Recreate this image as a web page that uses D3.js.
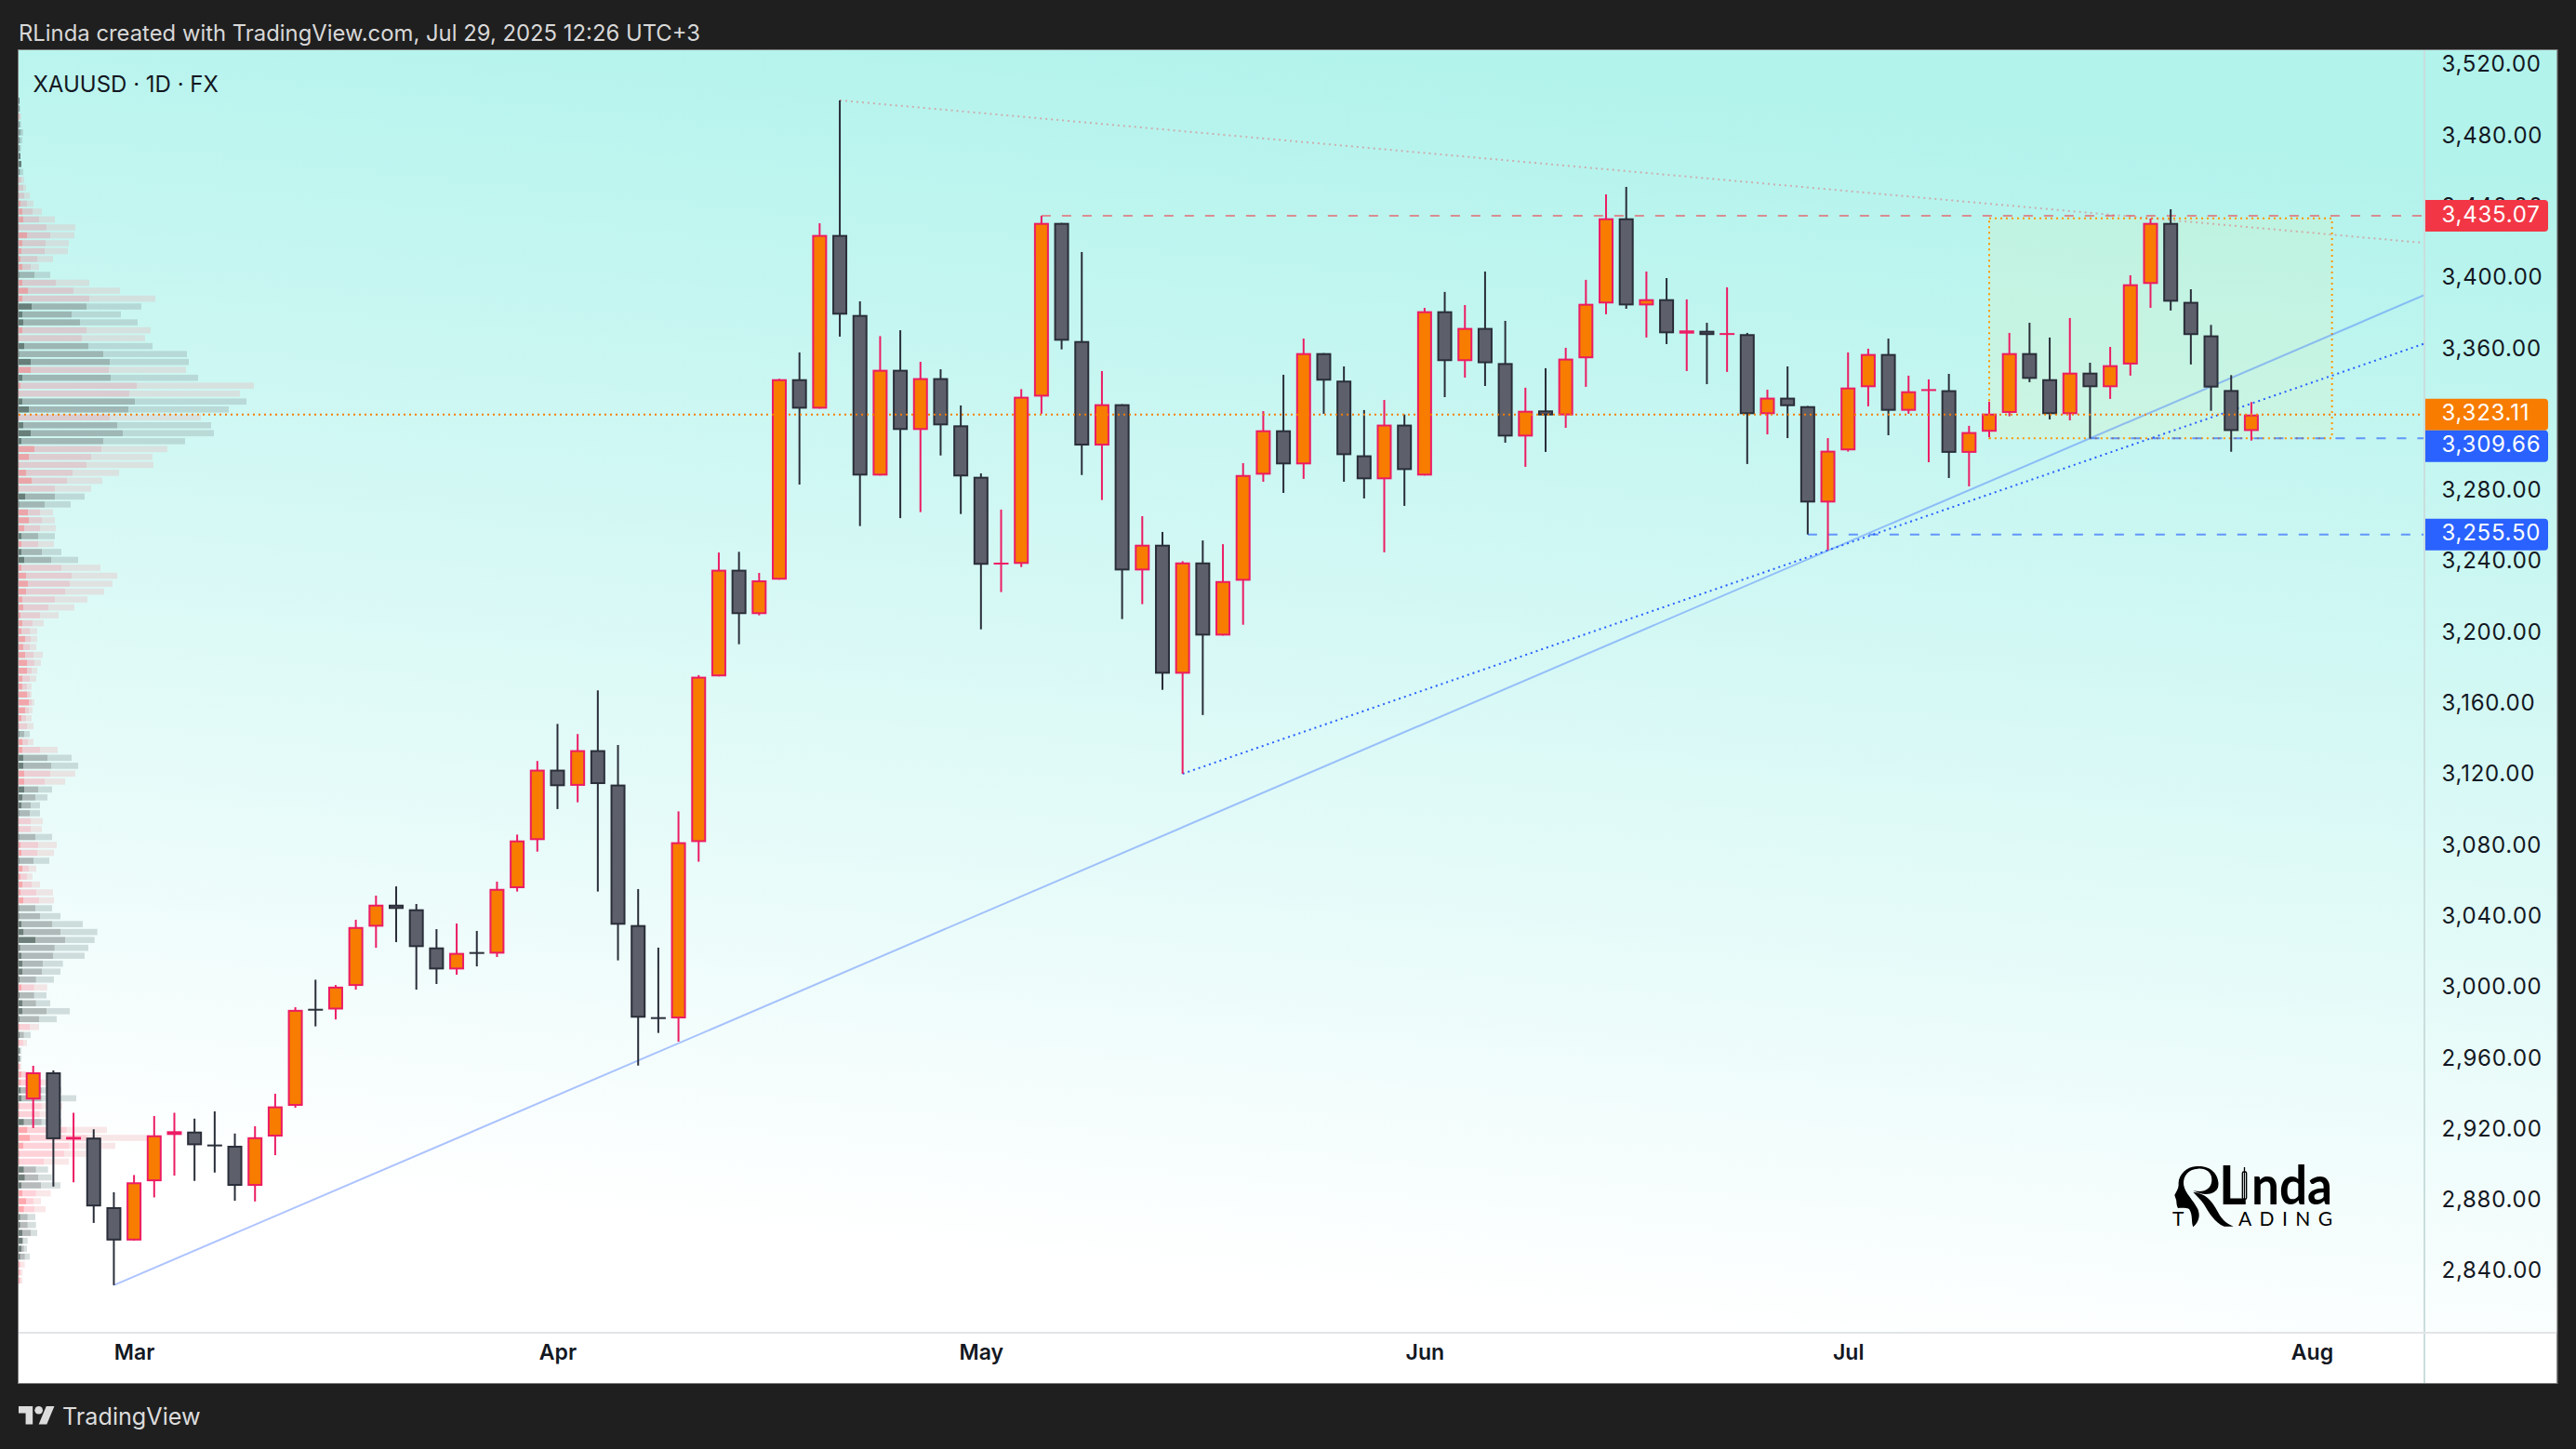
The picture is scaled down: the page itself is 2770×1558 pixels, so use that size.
<!DOCTYPE html>
<html><head><meta charset="utf-8">
<script src="https://cdn.jsdelivr.net/npm/d3@7"></script>
<style>html,body{margin:0;padding:0;background:#1f1f1f}svg{display:block}text{font-family:Inter,"Noto Sans",sans-serif}</style>
</head><body><svg id="c" width="2770" height="1558"></svg>
<script>
const opens=[2937.0,2952.3,2914.4,2915.5,2876.3,2857.5,2890.9,2917.0,2918.9,2911.6,2910.9,2888.3,2916.1,2933.4,2988.1,2987.7,3001.0,3034.4,3046.8,3044.2,3022.7,3010.3,3020.1,3019.2,3056.1,3083.2,3122.9,3113.8,3133.9,3114.5,3035.3,2983.4,2982.7,3082.1,3175.5,3235.6,3210.6,3230.0,3343.0,3326.4,3424.3,3379.2,3288.7,3348.3,3314.4,3343.6,3317.0,3288.0,3238.9,3238.9,3333.2,3431.1,3364.5,3305.6,3328.9,3235.2,3249.7,3177.0,3239.7,3198.5,3229.4,3289.2,3314.2,3295.0,3357.7,3342.2,3300.1,3286.6,3317.4,3288.7,3381.3,3353.2,3371.9,3352.1,3310.7,3325.4,3322.6,3354.8,3385.7,3433.7,3384.6,3388.1,3368.7,3370.3,3368.4,3368.4,3323.3,3332.6,3327.8,3273.5,3302.9,3338.5,3357.2,3325.2,3336.9,3336.8,3301.5,3313.4,3324.0,3357.7,3343.0,3323.3,3346.7,3338.5,3351.3,3396.7,3431.1,3386.6,3367.7,3336.9,3313.8];
const highs=[2956.0,2953.4,2929.5,2920.2,2884.7,2894.4,2927.7,2929.5,2926.2,2930.3,2917.8,2921.9,2940.2,2989.0,3004.5,3001.5,3038.3,3051.9,3057.1,3047.2,3033.0,3036.2,3032.0,3059.8,3086.3,3127.8,3148.7,3143.0,3167.6,3136.8,3055.6,3022.6,3099.4,3176.2,3245.3,3245.7,3233.8,3343.2,3358.1,3430.9,3500.2,3386.9,3367.3,3370.6,3352.8,3348.6,3328.2,3289.9,3269.5,3337.4,3435.07,3431.1,3414.7,3347.6,3328.9,3265.8,3256.9,3240.4,3252.1,3250.0,3295.7,3325.0,3345.5,3365.9,3357.7,3350.2,3325.6,3331.3,3323.1,3383.2,3392.2,3384.8,3403.7,3375.9,3338.2,3349.2,3360.7,3399.0,3447.2,3451.4,3403.7,3400.0,3388.0,3374.8,3394.8,3369.1,3337.1,3350.2,3327.9,3309.8,3358.1,3360.2,3365.9,3345.0,3342.9,3346.0,3316.7,3330.3,3369.1,3374.8,3366.5,3377.5,3352.3,3361.2,3401.6,3433.6,3438.8,3393.7,3373.6,3345.3,3330.1];
const lows=[2920.9,2887.9,2890.3,2867.4,2832.3,2857.5,2881.8,2894.1,2891.1,2895.8,2879.9,2879.5,2905.6,2932.3,2978.2,2982.1,2998.9,3022.5,3025.7,2998.9,3002.1,3007.3,3012.0,3017.3,3054.2,3076.7,3100.7,3104.5,3054.2,3015.4,2956.1,2974.5,2969.6,3071.0,3175.5,3193.6,3209.9,3230.0,3283.6,3326.4,3367.0,3260.2,3288.7,3264.7,3268.1,3300.0,3267.0,3202.0,3223.0,3237.1,3323.5,3359.8,3289.0,3274.9,3207.8,3216.2,3167.9,3120.6,3153.7,3198.5,3204.6,3285.2,3278.9,3286.8,3323.5,3285.2,3275.8,3245.4,3271.6,3288.7,3332.9,3343.9,3339.2,3307.2,3293.6,3302.0,3315.6,3338.7,3379.6,3382.7,3366.5,3362.8,3347.6,3340.2,3347.1,3295.2,3311.9,3309.8,3255.5,3246.6,3302.2,3327.7,3311.4,3323.5,3296.2,3287.3,3282.6,3310.2,3322.1,3341.3,3320.3,3319.8,3309.66,3331.9,3345.0,3383.2,3381.7,3351.3,3325.2,3302.1,3308.4];
const closes=[2952.3,2914.6,2915.9,2876.7,2857.5,2890.3,2916.8,2919.1,2911.2,2911.2,2888.3,2915.7,2933.1,2987.5,2987.7,3000.6,3034.2,3046.8,3044.4,3022.9,3010.3,3019.6,3019.7,3055.7,3083.0,3122.9,3113.6,3133.9,3114.8,3035.5,2983.1,2983.1,3082.0,3175.3,3235.6,3210.6,3229.6,3343.0,3326.4,3424.3,3379.4,3288.7,3348.3,3314.4,3343.6,3317.0,3288.2,3238.4,3239.6,3333.1,3431.1,3364.7,3305.6,3328.9,3235.2,3249.7,3177.0,3239.7,3198.5,3229.2,3289.0,3314.2,3295.0,3357.7,3342.2,3300.2,3286.6,3317.4,3291.8,3381.3,3353.2,3371.9,3352.0,3310.7,3325.2,3322.6,3354.6,3385.5,3433.7,3384.6,3388.1,3368.9,3370.5,3367.9,3369.0,3323.3,3332.6,3327.8,3273.5,3302.7,3338.3,3357.2,3325.2,3336.2,3337.4,3301.5,3313.2,3323.6,3357.7,3343.2,3323.3,3346.7,3338.5,3350.9,3396.5,3431.1,3386.7,3367.9,3338.3,3313.8,3323.11];

const priceTicks=d3.range(2840,3521,40).filter(p=>p!==3320);
const monthTicks=[5,26,47,69,90,113];
const monthNames=["Mar","Apr","May","Jun","Jul","Aug"];

// volume profile, top row first: p = rose rows, g = grey rows
const vpSide=("ggpggggggg|pppppppppppp|g|ppp|ggg|pp|ggg|p|g|pp|gg|p|ggg|pppppp|gg|ppp|g|p|gg|"+
"ppppppp|ppppppp|ppppppp|g|pp|gg|pp|gggg|pp|g|pp|g|ppppp|gggggggggg|p|gggg|p|g|p|gg|ppp|gg|pp|g|ppppp|ggg|ppp|gggggg|ppp").replace(/\|/g,"").split("");
const vpInner=[3,2,2,2,2,2,2,6,9,2,2,2,2,6,12,15,2,27,12,9,6,12,2,12,30,12,42,12,15,12,2,18,2,39,39,12,6,2,12,33,2,15,39,9,51,33,2,24,42,2,21,2,30,33,18,9,9,9,18,9,24,30,24,12,15,6,12,9,21,15,21,27,27,12,12,27,33,21,9,2,2,12,12,15,15,18,18,18,12,9,2,2,2,2,6,9,2,12,6,12,6,15,2,2,9,16,54,5,9,12,12,3,9,3,12,12,3,3,3,3,3,3,3,9,7,7,9,3,3,17,28,36,15,3,3,17,20,9,12,24,17,5,5,12,12,9,5,3,3,3];
const vpMid=[3,2,4,4,8,5,4,6,9,5,9,15,18,27,45,66,90,102,87,84,60,39,51,120,177,228,219,171,198,219,204,225,273,294,291,297,381,357,375,354,294,318,336,273,267,234,219,174,156,117,117,84,69,75,69,63,63,75,105,138,171,165,150,117,96,69,45,36,39,36,48,51,42,36,27,36,42,33,24,27,18,30,69,93,105,102,84,63,54,39,36,39,39,54,63,60,48,33,27,42,57,66,54,69,108,135,150,116,111,78,75,56,50,50,56,90,66,36,17,15,5,5,5,24,74,74,74,74,68,74,155,221,163,147,82,56,63,72,56,48,51,29,29,39,15,17,20,7,7,7];
const vpTotal=[3,5,8,8,15,12,8,6,9,15,18,24,36,48,75,117,183,180,162,159,111,66,102,228,327,441,396,330,384,426,408,432,543,549,540,579,759,714,735,678,588,621,630,537,480,432,435,324,270,234,213,168,111,117,120,117,114,138,192,264,318,303,276,222,180,129,81,60,60,57,78,72,60,57,42,42,51,45,42,48,36,48,126,171,192,183,150,108,93,69,69,78,75,108,123,114,99,57,45,69,111,114,108,135,207,254,245,225,213,143,135,114,92,90,102,165,123,66,39,27,9,9,9,40,94,138,186,141,130,138,285,422,312,218,162,95,107,135,104,72,87,54,56,60,29,27,36,20,13,12];

const levels=[{price:3435.07,start:50,color:"#f23645",line:"rgba(242,54,69,.55)"},{price:3309.66,start:102,color:"#2962ff",line:"rgba(41,98,255,.65)"},{price:3255.50,start:88,color:"#2962ff",line:"rgba(41,98,255,.65)"}];
const lastPrice=3323.11;
const zone={from:97,to:114,top:3433.7,bottom:3309.66};
const solidTrend=[[4,2832.3],[102,3309.66]];
const dottedTrend=[[57,3120.6],[89,3246.6]];
const fadedTrend=[[40,3500.2],[118.6,3419.8]];

const L=20,R=2607,T=54,B=1432,E=2749.5,F=1487;
const svg=d3.select("#c");
const x=d3.scaleLinear().domain([0,110]).range([35.7,2420.9]);
const y=d3.scaleLinear().domain([2840,3240]).range([1367.2,604.2]);
const vx=d3.scaleLinear().domain([0,759]).range([L,L+253]);
const ink="#131722";
const defs=svg.append("defs");
const g=defs.append("linearGradient").attr("id","bg").attr("gradientUnits","userSpaceOnUse").attr("x1",1385).attr("y1",T).attr("x2",1245).attr("y2",B);
g.append("stop").attr("offset",0).attr("stop-color","#b2f3ec");
g.append("stop").attr("offset",.96).attr("stop-color","#ffffff");
defs.append("clipPath").attr("id","clip").append("rect").attr("x",L).attr("y",T).attr("width",R-L).attr("height",B-T);

svg.append("rect").attr("width",2770).attr("height",1558).attr("fill","#1f1f1f");
svg.append("rect").attr("x",L).attr("y",T).attr("width",E-L).attr("height",F-T).attr("fill","#fff");
svg.append("rect").attr("x",L).attr("y",T).attr("width",E-L).attr("height",B-T).attr("fill","url(#bg)");

svg.append("text").attr("x",20).attr("y",43.5).attr("fill","#d8d8d8").attr("font-size",23.85).text("RLinda created with TradingView.com, Jul 29, 2025 12:26 UTC+3");
svg.append("text").attr("x",35.5).attr("y",98.5).attr("fill",ink).attr("font-size",24).text("XAUUSD · 1D · FX");

const plot=svg.append("g").attr("clip-path","url(#clip)");
// volume profile
const binTop=3500.0,binStep=4.463;
const vp=plot.append("g");
const fills={p:["rgba(238,168,174,.28)","rgba(255,66,95,.24)","rgba(255,88,100,.52)"],g:["rgba(152,172,172,.4)","rgba(110,118,118,.5)","rgba(77,95,90,.8)"]};
vpSide.forEach((s,i)=>{
  const yc=y(binTop-i*binStep);
  [[vpMid[i],vpTotal[i],0],[vpInner[i],vpMid[i],1],[0,vpInner[i],2]].forEach(([a,b,k])=>{
    if(b>a) vp.append("rect").attr("x",vx(a)).attr("y",yc-3.3).attr("width",vx(b)-vx(a)).attr("height",6.6).attr("fill",fills[s][k]);
  });
});
// zone
plot.append("rect").attr("x",x(zone.from)).attr("y",y(zone.top)).attr("width",x(zone.to)-x(zone.from)).attr("height",y(zone.bottom)-y(zone.top)).attr("fill","rgba(255,240,140,.12)").attr("stroke","#ff9800").attr("stroke-width",2).attr("stroke-dasharray","2 4");
// lines extended to price scale
function ext(a,stroke,w,dash){
  const lineEnd=(R-x(0))/(x(1)-x(0));
  const m=(a[1][1]-a[0][1])/(a[1][0]-a[0][0]);
  const p2=a[0][1]+m*(lineEnd-a[0][0]);
  const l=plot.append("line").attr("x1",x(a[0][0])).attr("y1",y(a[0][1])).attr("x2",x(lineEnd)).attr("y2",y(p2)).attr("stroke",stroke).attr("stroke-width",w);
  if(dash) l.attr("stroke-dasharray",dash);
}
ext(fadedTrend,"rgba(242,54,69,.36)",2,"2 4");
levels.forEach(d=>plot.append("line").attr("x1",x(d.start)).attr("x2",R).attr("y1",y(d.price)).attr("y2",y(d.price)).attr("stroke",d.line).attr("stroke-width",2).attr("stroke-dasharray","10 12"));
ext(solidTrend,"rgba(41,98,255,.38)",2);
ext(dottedTrend,"#2962ff",2,"2 4");

// candles
const candles=plot.append("g");
opens.forEach((o,i)=>{
  const c=closes[i],up=c>=o,cx=x(i),wick=up?"#ec1c63":"#2a2e39",fill=up?"#f77c00":"#5d606b";
  candles.append("line").attr("x1",cx).attr("x2",cx).attr("y1",y(highs[i])).attr("y2",y(lows[i])).attr("stroke",wick).attr("stroke-width",2);
  const t=y(Math.max(o,c)),b=y(Math.min(o,c)),h=Math.max(b-t,2);
  candles.append("rect").attr("x",cx-8).attr("y",t).attr("width",16).attr("height",h).attr("fill",wick);
  if(h>4) candles.append("rect").attr("x",cx-6).attr("y",t+2).attr("width",12).attr("height",h-4).attr("fill",fill);
});
plot.append("line").attr("x1",L).attr("x2",R).attr("y1",y(lastPrice)).attr("y2",y(lastPrice)).attr("stroke","#f77c00").attr("stroke-width",2).attr("stroke-dasharray","2 4");

// logo
const logo=svg.append("g").attr("transform","translate(2250,1200) scale(0.3333)").attr("fill","#000");
logo.append("path").attr("d","M340 162C395 160 412 205 405 230C398 250 365 262 325 240C360 250 385 235 385 205C385 180 365 168 340 170C305 172 290 200 295 225C300 250 325 270 340 300C350 325 340 345 325 358C318 340 325 320 312 300C300 295 285 297 276 297C270 285 272 275 270 270L265 255C270 245 278 235 278 222C275 190 305 160 340 162Z");
logo.append("path").attr("d","M325 245C365 250 385 270 405 310C420 340 440 350 455 356L425 356C395 345 375 310 360 285C350 268 335 258 325 245Z");
logo.append("rect").attr("x",484).attr("y",180).attr("width",13).attr("height",88).attr("rx",4).attr("fill","none").attr("stroke","#000").attr("stroke-width",4);
logo.append("line").attr("x1",490.5).attr("x2",490.5).attr("y1",165).attr("y2",282).attr("stroke","#000").attr("stroke-width",4);
const lg=svg.append("g").attr("fill","#000");
lg.append("text").attr("x",2386).attr("y",1295).attr("font-size",57).attr("font-weight",700).style("font-family","Lato").text("L");
lg.append("text").attr("x",2421).attr("y",1295).attr("font-size",57).attr("font-weight",700).attr("textLength",87).attr("lengthAdjust","spacingAndGlyphs").style("font-family","Lato").text("nda");
lg.append("text").attr("x",2336).attr("y",1318).attr("font-size",21).style("font-family","Lato").text("T");
lg.append("text").attr("x",2407).attr("y",1318).attr("font-size",21).attr("textLength",101).style("font-family","Lato").text("ADING");

// axes
const ya=svg.append("g").attr("transform",`translate(${R},0)`).call(d3.axisRight(y).tickValues(priceTicks).tickSize(0).tickPadding(18.5).tickFormat(d3.format(",.2f")));
ya.select(".domain").remove();
ya.selectAll("text").attr("fill",ink).attr("font-size",24).attr("dy",".28em").style("font-family","Inter").style("letter-spacing","0.75px");
const xa=svg.append("g").attr("transform",`translate(0,${B})`).call(d3.axisBottom(x).tickValues(monthTicks).tickSize(0).tickPadding(14).tickFormat((d,i)=>monthNames[i]));
xa.select(".domain").remove();
xa.selectAll("text").attr("fill",ink).attr("font-size",23).attr("font-weight",600).style("font-family","Inter");

svg.append("line").attr("x1",R).attr("x2",R).attr("y1",T).attr("y2",F).attr("stroke","#c9dedd").attr("stroke-width",2);
svg.append("line").attr("x1",L).attr("x2",E).attr("y1",B+1).attr("y2",B+1).attr("stroke","#e2e4e6").attr("stroke-width",2);
svg.append("rect").attr("x",L-.5).attr("y",T-.5).attr("width",E-L+1).attr("height",F-T+1).attr("fill","none").attr("stroke","#7c7c7c").attr("stroke-width",1);

// price labels
const tags=[{price:levels[0].price,color:levels[0].color,yc:y(levels[0].price)},{price:lastPrice,color:"#f77c00",yc:y(lastPrice)},{price:levels[1].price,color:levels[1].color,yc:y(lastPrice)+34},{price:levels[2].price,color:levels[2].color,yc:y(levels[2].price)}];
const fmt=d3.format(",.2f");
tags.forEach(t=>{
  const y0=t.yc-17,x0=R+1,w=132,h=34,r=4;
  svg.append("path").attr("d",`M${x0} ${y0}H${x0+w-r}Q${x0+w} ${y0} ${x0+w} ${y0+r}V${y0+h-r}Q${x0+w} ${y0+h} ${x0+w-r} ${y0+h}H${x0}Z`).attr("fill",t.color);
  svg.append("text").attr("x",R+18.5).attr("y",t.yc+6.5).attr("fill","#fff").attr("font-size",24).style("letter-spacing","0.75px").text(fmt(t.price));
});

// footer
const f=svg.append("g").attr("transform","translate(20,1507.6) scale(1.083)").attr("fill","#dcdcdc");
f.append("path").attr("d","M14 22H7V11H0V4h14v18zM28 22h-8l7.5-18h8L28 22z");
f.append("circle").attr("cx",20).attr("cy",8).attr("r",4);
svg.append("text").attr("x",67).attr("y",1532).attr("fill","#dcdcdc").attr("font-size",25.2).text("TradingView");
</script></body></html>
